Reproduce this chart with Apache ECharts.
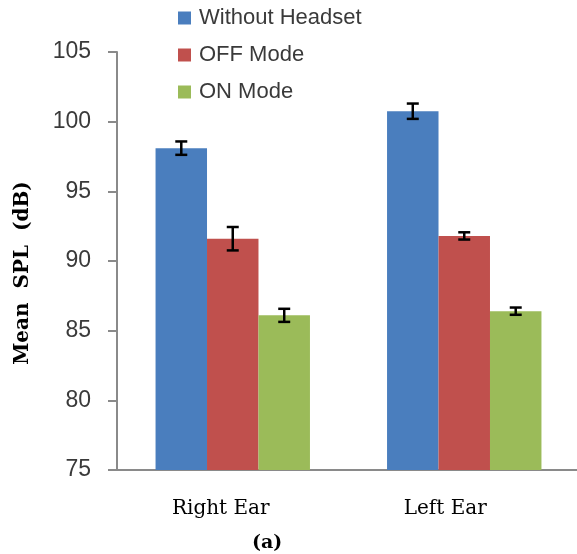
<!DOCTYPE html>
<html>
<head>
<meta charset="utf-8">
<script src="https://cdn.jsdelivr.net/npm/echarts@6/dist/echarts.min.js"></script>
<style>
html,body{margin:0;padding:0;background:#fff;}
#chart{width:577px;height:554px;}
</style>
</head>
<body>
<div id="chart"></div>
<script>
// ---- data ----
const categories = ['Right Ear', 'Left Ear'];
const seriesNames = ['Without Headset', 'OFF Mode', 'ON Mode'];
const withoutHeadset = [98.1, 100.75];
const offMode = [91.6, 91.8];
const onMode = [86.1, 86.4];
const withoutHeadsetErr = [0.48, 0.55];
const offModeErr = [0.84, 0.26];
const onModeErr = [0.47, 0.26];
const yMin = 75, yMax = 105, yStep = 5;

// ---- style ----
const colors = ['#4A7EBE', '#C0504D', '#9BBB59'];
const GAP = 0.333;
const labelPad = [[0, 24, 0, 0], [0, 38, 0, 0]];

const chart = echarts.init(document.getElementById('chart'), null, {renderer: 'canvas'});

function errSeries(idx, values, errs) {
  return {
    type: 'custom',
    name: seriesNames[idx] + ' err',
    z: 10,
    silent: true,
    encode: {x: 0, y: 1},
    data: values.map((v, i) => [i, v, errs[i]]),
    renderItem: function (params, api) {
      const c = api.value(0), v = api.value(1), e = api.value(2);
      const top = api.coord([c, v + e]);
      const bot = api.coord([c, v - e]);
      const band = api.size([1, 0])[0];
      const bw = band * (1 - GAP) / 3;
      const x = top[0] + (idx - 1) * bw;
      const cap = 6;
      const st = {stroke: '#000', lineWidth: 2.5};
      return {
        type: 'group',
        children: [
          {type: 'line', shape: {x1: x, y1: top[1], x2: x, y2: bot[1]}, style: st},
          {type: 'line', shape: {x1: x - cap, y1: top[1], x2: x + cap, y2: top[1]}, style: st},
          {type: 'line', shape: {x1: x - cap, y1: bot[1], x2: x + cap, y2: bot[1]}, style: st}
        ]
      };
    }
  };
}

const valueSets = [withoutHeadset, offMode, onMode];
const errSets = [withoutHeadsetErr, offModeErr, onModeErr];

const option = {
  animation: false,
  backgroundColor: '#fff',
  title: {
    text: '(a)', left: 252, top: 534, padding: 0,
    textStyle: {fontFamily: 'DejaVu Serif', fontWeight: 'bold', fontSize: 19, color: '#000'}
  },
  legend: {
    data: seriesNames,
    orient: 'vertical',
    left: 173, top: 2,
    itemWidth: 13, itemHeight: 13,
    itemGap: 15,
    icon: 'rect',
    textStyle: {fontFamily: 'Liberation Sans', fontSize: 22, color: '#3a3a3a', lineHeight: 22, padding: [0, 0, 0, 3]}
  },
  grid: {left: 117, right: -3, top: 52, bottom: 84, containLabel: false, outerBoundsMode: 'none'},
  xAxis: {
    type: 'category',
    data: categories.map((c, i) => ({value: c, textStyle: {padding: labelPad[i]}})),
    axisTick: {show: false},
    axisLine: {lineStyle: {color: '#8a8a8a', width: 2}},
    axisLabel: {fontFamily: 'DejaVu Serif', fontSize: 20, color: '#000', margin: 29}
  },
  yAxis: {
    type: 'value',
    min: yMin, max: yMax, interval: yStep,
    name: 'Mean  SPL  (dB)',
    nameLocation: 'middle',
    nameGap: 84,
    nameTextStyle: {fontFamily: 'DejaVu Serif', fontWeight: 'bold', fontSize: 20, color: '#000', padding: [0, 24, 0, 0]},
    splitLine: {show: false},
    axisLine: {show: true, lineStyle: {color: '#8a8a8a', width: 2}},
    axisTick: {show: true, length: 9, lineStyle: {color: '#8a8a8a', width: 2}},
    axisLabel: {fontFamily: 'Liberation Sans', fontSize: 23, color: '#3a3a3a', margin: 26}
  },
  series: seriesNames.map((n, i) => ({
    type: 'bar',
    name: n,
    data: valueSets[i],
    barGap: '0%',
    barCategoryGap: (GAP * 100) + '%',
    itemStyle: {color: colors[i]}
  })).concat(seriesNames.map((n, i) => errSeries(i, valueSets[i], errSets[i])))
};

chart.setOption(option);
</script>
</body>
</html>
